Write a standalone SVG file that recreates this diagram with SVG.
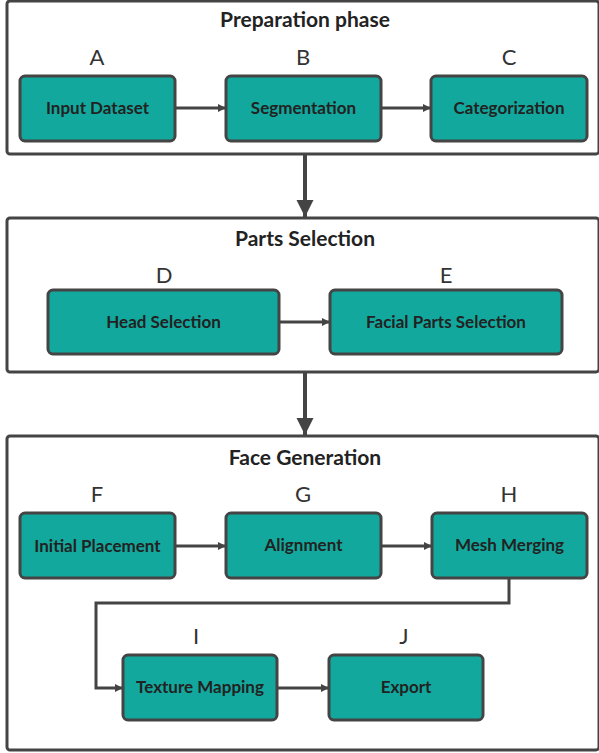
<svg xmlns="http://www.w3.org/2000/svg" width="599" height="753" viewBox="0 0 599 753">
  <defs>
    <style>
      .phase { fill: #ffffff; stroke: #444444; stroke-width: 3; }
      .node rect { fill: #12a89d; stroke: #444444; stroke-width: 3; }
      .node text { font-family: Lato, "Liberation Sans", sans-serif; font-size: 17px; font-weight: 700; fill: #222222; text-anchor: middle; }
      .node text.letter { font-size: 22px; font-weight: 400; fill: #333333; }
      .title { font-family: Lato, "Liberation Sans", sans-serif; font-size: 21px; font-weight: 700; fill: #222222; text-anchor: middle; }
      .edge { fill: none; stroke: #444444; stroke-width: 3; }
      .big { fill: none; stroke: #444444; stroke-width: 4; }
    </style>
    <marker id="head" viewBox="0 0 10 10" refX="10" refY="5" markerWidth="8" markerHeight="8" markerUnits="userSpaceOnUse" orient="auto">
      <path d="M0,0 L10,5 L0,10 Z" fill="#444444"/>
    </marker>
    <marker id="bighead" viewBox="0 0 10 10" refX="10" refY="5" markerWidth="17" markerHeight="18" markerUnits="userSpaceOnUse" orient="auto">
      <path d="M0,0 L10,5 L0,10 Z" fill="#444444"/>
    </marker>
  </defs>

  <!-- phase containers -->
  <g id="phase-preparation">
    <rect class="phase" x="7" y="1" width="592" height="153" rx="3"/>
    <text class="title" x="305" y="27">Preparation phase</text>
  </g>
  <g id="phase-parts">
    <rect class="phase" x="7" y="218" width="592" height="154" rx="3"/>
    <text class="title" x="305" y="246">Parts Selection</text>
  </g>
  <g id="phase-face">
    <rect class="phase" x="7" y="436" width="592" height="314" rx="3"/>
    <text class="title" x="305" y="465">Face Generation</text>
  </g>

  <!-- connectors -->
  <g id="connectors">
    <path class="edge" d="M175,108 H226" marker-end="url(#head)"/>
    <path class="edge" d="M381,108 H431" marker-end="url(#head)"/>
    <path class="big" d="M305,154 V217" marker-end="url(#bighead)"/>
    <path class="edge" d="M279,322 H330" marker-end="url(#head)"/>
    <path class="big" d="M305,372 V435" marker-end="url(#bighead)"/>
    <path class="edge" d="M175,546 H226" marker-end="url(#head)"/>
    <path class="edge" d="M381,546 H432" marker-end="url(#head)"/>
    <path class="edge" d="M509,578 V603 H96 V688 H123" marker-end="url(#head)"/>
    <path class="edge" d="M277,688 H329" marker-end="url(#head)"/>
  </g>

  <!-- nodes -->
  <g id="node-A" class="node">
    <text class="letter" x="97" y="65">A</text>
    <rect x="20" y="76" width="155" height="65" rx="5"/>
    <text x="97.5" y="114">Input Dataset</text>
  </g>
  <g id="node-B" class="node">
    <text class="letter" x="303" y="65">B</text>
    <rect x="226" y="76" width="155" height="65" rx="5"/>
    <text x="303.5" y="114">Segmentation</text>
  </g>
  <g id="node-C" class="node">
    <text class="letter" x="509" y="65">C</text>
    <rect x="431" y="76" width="156" height="65" rx="5"/>
    <text x="509" y="114">Categorization</text>
  </g>
  <g id="node-D" class="node">
    <text class="letter" x="164" y="283">D</text>
    <rect x="48" y="290" width="231" height="64" rx="5"/>
    <text x="163.5" y="328">Head Selection</text>
  </g>
  <g id="node-E" class="node">
    <text class="letter" x="446" y="283">E</text>
    <rect x="330" y="290" width="232" height="64" rx="5"/>
    <text x="446" y="328">Facial Parts Selection</text>
  </g>
  <g id="node-F" class="node">
    <text class="letter" x="97" y="502">F</text>
    <rect x="20" y="513" width="155" height="65" rx="5"/>
    <text x="97.5" y="552">Initial Placement</text>
  </g>
  <g id="node-G" class="node">
    <text class="letter" x="303" y="502">G</text>
    <rect x="226" y="513" width="155" height="65" rx="5"/>
    <text x="303.5" y="551">Alignment</text>
  </g>
  <g id="node-H" class="node">
    <text class="letter" x="509" y="502">H</text>
    <rect x="432" y="513" width="155" height="65" rx="5"/>
    <text x="509.5" y="551">Mesh Merging</text>
  </g>
  <g id="node-I" class="node">
    <text class="letter" x="196" y="644">I</text>
    <rect x="123" y="655" width="154" height="65" rx="5"/>
    <text x="200" y="693">Texture Mapping</text>
  </g>
  <g id="node-J" class="node">
    <text class="letter" x="404" y="644">J</text>
    <rect x="329" y="655" width="154" height="65" rx="5"/>
    <text x="406" y="693">Export</text>
  </g>
</svg>
